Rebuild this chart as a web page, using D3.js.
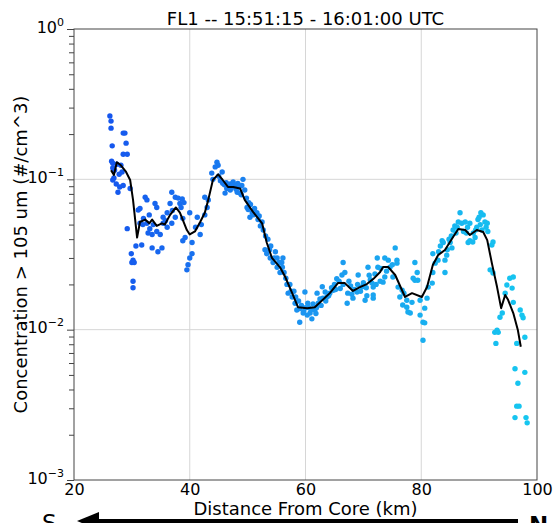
<!DOCTYPE html>
<html lang="en">
<head>
    <meta charset="UTF-8">
    <title>FL1</title>
    <script src="https://d3js.org/d3.v7.min.js"></script>
    <style>
        body { margin: 0; background: #fff; overflow: hidden; }
        svg { display: block; }
        text { font-family: "DejaVu Sans", sans-serif; }
    </style>
</head>
<body>
<script>
    const width = 554
    const height = 523
    const padL = 74, padR = 537, padT = 29, padB = 480

    const xTicks = [20, 40, 60, 80, 100]
    const yDecades = [1e-3, 1e-2, 1e-1, 1]
    const yExp = ['\u22123', '\u22122', '\u22121', '0']

    // [km, #/cm^3]
    const scatterPts = [
        [26.2,0.264],[26.4,0.244],[26.4,0.219],[26.6,0.167],[28.5,0.203],[28.8,0.203],[29.0,0.174],[28.5,0.147],
        [29.2,0.147],[26.7,0.128],[27.4,0.126],[26.7,0.119],[28.1,0.124],[26.9,0.102],[26.7,0.099],[27.3,0.093],
        [27.9,0.089],[28.5,0.091],[27.6,0.082],[28.3,0.112],[29.7,0.087],[29.2,0.047],[29.9,0.032],[30.2,0.029],
        [30.0,0.028],[30.4,0.028],[30.2,0.021],[30.2,0.019],[30.7,0.036],[27.0,0.115],[27.8,0.108],[26.5,0.132],
        [31.7,0.0366],[33.5,0.035],[34.5,0.033],[35.2,0.035],[31.1,0.0625],[31.4,0.064],[32.3,0.076],[32.6,0.073],
        [34.0,0.069],[34.3,0.065],[36.9,0.082],[37.5,0.076],[38.0,0.075],[38.7,0.074],[38.3,0.069],[36.6,0.069],
        [36.1,0.060],[35.4,0.056],[33.1,0.047],[32.8,0.044],[33.5,0.043],[34.3,0.045],[34.9,0.043],[32.6,0.051],
        [31.9,0.050],[31.4,0.051],[36.9,0.051],[37.5,0.056],[38.8,0.055],[39.2,0.041],[38.8,0.039],[40.0,0.060],
        [40.4,0.038],[40.4,0.032],[40.0,0.030],[39.7,0.027],[39.5,0.025],[41.3,0.056],[41.8,0.043],[42.6,0.058],
        [43.0,0.065],[43.2,0.073],[42.6,0.076],[35.4,0.051],[33.7,0.050],[36.1,0.048],[32.0,0.055],[33.0,0.058],
        [35.8,0.053],[37.0,0.062],[38.5,0.065],[39.0,0.070],[41.0,0.048],[42.0,0.050],
        [44.7,0.130],[44.9,0.124],[44.4,0.121],[45.6,0.112],[43.8,0.110],[45.7,0.094],[46.4,0.087],[47.0,0.085],
        [47.5,0.096],[48.3,0.094],[48.2,0.082],[46.1,0.081],[49.2,0.100],[49.0,0.091],[48.7,0.081],[49.5,0.085],
        [49.9,0.065],[50.1,0.063],[50.8,0.060],[50.4,0.056],[51.6,0.060],[51.8,0.054],[52.5,0.052],[52.7,0.046],
        [53.0,0.034],[53.3,0.032],[53.9,0.030],[54.4,0.028],[55.1,0.030],[56.1,0.030],[55.1,0.026],[55.9,0.028],
        [55.6,0.024],[56.8,0.020],[57.0,0.0175],[57.7,0.0165],[58.2,0.015],[58.5,0.0135],[59.0,0.0112],[59.6,0.0129],
        [59.9,0.0178],[60.4,0.015],[60.8,0.0129],[61.1,0.0118],[61.6,0.0135],[62.2,0.015],[63.0,0.0162],[63.7,0.0165],
        [64.2,0.0175],[64.8,0.0183],[65.4,0.0218],[66.3,0.0231],[66.5,0.028],[66.8,0.024],[67.2,0.015],[67.3,0.0175],
        [68.2,0.0162],[68.9,0.0178],[69.1,0.0231],[69.8,0.0193],[70.3,0.0157],[70.6,0.0168],[70.8,0.026],[71.7,0.0162],
        [72.4,0.030],[72.5,0.026],[62.9,0.0193],[62.0,0.0175],
        [44.0,0.100],[45.0,0.105],[46.0,0.092],[46.8,0.090],[47.2,0.088],[47.8,0.091],[48.5,0.089],[49.8,0.075],
        [50.5,0.068],[51.2,0.064],[52.0,0.057],[53.5,0.040],[54.0,0.036],[54.8,0.033],[56.3,0.024],[57.3,0.020],
        [58.0,0.018],[58.8,0.0155],[59.3,0.0145],[60.0,0.0140],[60.6,0.0140],[61.3,0.0148],[61.9,0.0140],[62.5,0.0160],
        [63.4,0.0178],[64.5,0.0190],[65.0,0.0200],[65.8,0.0210],[66.0,0.0188],[67.8,0.0195],[68.5,0.0185],[69.5,0.0180],
        [70.0,0.0205],[71.2,0.0215],[72.0,0.0235],
        [45.3,0.098],[46.3,0.095],[47.0,0.093],[48.0,0.086],[48.9,0.079],[50.2,0.070],[51.0,0.058],[52.2,0.049],
        [53.1,0.042],[53.8,0.034],[54.6,0.030],[55.4,0.028],[56.0,0.026],[56.6,0.022],[57.5,0.018],[58.3,0.0165],
        [59.0,0.0138],[59.7,0.0132],[60.3,0.0125],[61.0,0.0136],[61.8,0.0128],[62.7,0.0145],[63.5,0.0155],[64.0,0.0168],
        [65.2,0.0185],[66.5,0.0200],[67.5,0.0210],[68.0,0.0172],[69.0,0.0200],[70.5,0.0190],[71.0,0.0230],[72.2,0.0200],
        [73.7,0.030],[74.3,0.029],[74.6,0.026],[75.5,0.035],[75.8,0.029],[75.8,0.0277],[73.7,0.0224],[73.4,0.0207],
        [72.9,0.021],[71.7,0.0192],[71.7,0.017],[71.5,0.0204],[75.1,0.0224],[76.0,0.0192],[76.7,0.0183],[76.8,0.0146],
        [77.5,0.0141],[77.7,0.0131],[78.1,0.0129],[77.5,0.0157],[78.4,0.0152],[78.9,0.0213],[79.3,0.024],[78.9,0.028],
        [78.6,0.022],[79.4,0.0213],[79.8,0.0157],[79.8,0.0125],[80.3,0.0112],[80.6,0.0111],[80.3,0.0085],[80.6,0.0139],
        [81.0,0.0162],[81.2,0.0192],[81.9,0.0204],[82.0,0.024],[82.4,0.0277],[82.0,0.032],[82.9,0.029],[83.6,0.039],
        [83.8,0.038],[84.1,0.029],[84.1,0.024],[84.4,0.0313],[85.0,0.038],[85.3,0.035],[85.5,0.046],[86.4,0.052],
        [86.7,0.060],[87.0,0.051],[87.6,0.052],[88.1,0.038],[88.4,0.039],[88.4,0.051],[88.9,0.0383],[89.3,0.041],
        [89.6,0.048],[89.8,0.054],[90.7,0.058],[91.0,0.052],[91.4,0.051],[91.5,0.045],[92.2,0.0366],[92.4,0.0383],
        [91.9,0.025],[92.4,0.0238],[93.1,0.0099],[92.7,0.0096],[93.3,0.0096],[92.9,0.0081],[93.6,0.0121],[94.0,0.0129],
        [94.5,0.0175],[94.8,0.0198],[95.3,0.022],[95.9,0.0224],[95.7,0.0189],[95.9,0.0152],[97.1,0.0135],[97.4,0.0125],
        [97.6,0.012],[96.5,0.0081],[97.9,0.0089],[96.2,0.0055],[97.9,0.0052],[96.7,0.0044],[96.5,0.0031],[96.9,0.0031],
        [96.2,0.0026],[98.1,0.0026],[98.3,0.0024],
        [83.0,0.033],[84.8,0.040],[86.0,0.044],[87.3,0.045],[88.0,0.048],[89.0,0.044],[90.2,0.050],[90.5,0.046],
        [85.8,0.049],[76.3,0.0165],[77.0,0.0175],[74.0,0.0245],[75.0,0.027],[73.0,0.0255],[90.3,0.060],
        [83.3,0.036],[84.5,0.034],[85.2,0.042],[86.2,0.048],[87.8,0.044],[89.4,0.046],[90.0,0.056],[91.2,0.048]
    ]

    // running mean (black line)
    const smoothPts = [
        [26.4,0.115],[26.9,0.107],[27.4,0.130],[28.1,0.124],[29.0,0.112],[29.7,0.099],[30.2,0.073],[30.9,0.041],
        [31.4,0.052],[32.3,0.054],[33.0,0.051],[33.5,0.054],[34.3,0.049],[35.2,0.051],[35.7,0.050],[36.6,0.058],
        [37.6,0.065],[38.3,0.060],[39.5,0.046],[40.0,0.043],[40.9,0.045],[41.8,0.052],[42.6,0.060],[43.2,0.073],
        [44.0,0.099],[44.9,0.108],[45.7,0.099],[46.6,0.089],[47.5,0.089],[48.7,0.087],[49.5,0.073],[50.9,0.061],
        [52.5,0.051],[53.3,0.038],[54.2,0.030],[55.6,0.026],[56.5,0.0224],[57.7,0.0175],[58.7,0.0141],[60.3,0.0139],
        [61.6,0.0141],[62.9,0.0157],[64.2,0.0175],[65.6,0.0204],[66.8,0.0204],[68.2,0.0181],[69.4,0.0192],[70.6,0.0201],
        [71.7,0.0217],[72.9,0.0242],[73.4,0.0261],[74.3,0.0261],[75.5,0.0231],[77.2,0.0165],[78.4,0.0175],[80.1,0.0165],
        [81.0,0.0192],[82.0,0.0269],[82.9,0.0313],[84.1,0.0339],[85.5,0.0413],[86.4,0.0467],[87.6,0.046],[88.4,0.0426],
        [89.6,0.046],[90.7,0.0446],[91.4,0.0394],[92.2,0.0277],[93.1,0.0192],[93.8,0.0139],[94.5,0.0170],[95.0,0.0158],
        [95.9,0.0129],[96.7,0.0099],[97.2,0.0077]
    ]

    var svg = d3.select("body")
        .append("svg")
        .attr("width", width)
        .attr("height", height)

    var xScale = d3.scaleLinear()
        .domain([20, 100])
        .range([padL, padR])
    var yScale = d3.scaleLog()
        .domain([1e-3, 1])
        .range([padB, padT])
    var colorScale = d3.scaleLinear()
        .domain([26, 60, 98])
        .range(['#1556ee', '#1c95f0', '#16c6f0'])

    // grid
    svg.append("g")
        .selectAll("line")
        .data(xTicks.slice(1, -1))
        .enter()
        .append("line")
        .attr("x1", d => xScale(d)).attr("x2", d => xScale(d))
        .attr("y1", padT).attr("y2", padB)
        .attr("stroke", "#d6d6d6")
    svg.append("g")
        .selectAll("line")
        .data(yDecades.slice(1, -1))
        .enter()
        .append("line")
        .attr("y1", d => yScale(d)).attr("y2", d => yScale(d))
        .attr("x1", padL).attr("x2", padR)
        .attr("stroke", "#d6d6d6")

    // points
    svg.append("g")
        .selectAll("circle")
        .data(scatterPts)
        .enter()
        .append("circle")
        .attr("cx", d => xScale(d[0]))
        .attr("cy", d => yScale(d[1]))
        .attr("r", 2.7)
        .attr("fill", d => colorScale(d[0]))

    var line = d3.line()
        .x(d => xScale(d[0]))
        .y(d => yScale(d[1]))
    svg.append("path")
        .attr("d", line(smoothPts))
        .attr("fill", "none")
        .attr("stroke", "#000")
        .attr("stroke-width", 2)
        .attr("stroke-linejoin", "round")

    // frame
    svg.append("rect")
        .attr("x", padL).attr("y", padT)
        .attr("width", padR - padL).attr("height", padB - padT)
        .attr("fill", "none")
        .attr("stroke", "#444")
        .attr("stroke-width", 1)

    // axes
    var gx = svg.append("g")
        .attr("transform", "translate(0," + padB + ")")
        .call(d3.axisBottom(xScale).tickValues(xTicks).tickSize(0).tickPadding(4))
    gx.select(".domain").remove()
    gx.selectAll("text").attr("font-size", 16).attr("fill", "#000")
        .attr("font-family", "DejaVu Sans")

    var minor = []
    yDecades.slice(0, -1).forEach(function (d) {
        for (var k = 2; k < 10; k++) minor.push(d * k)
    })
    var gyMinor = svg.append("g")
        .attr("transform", "translate(" + padL + ",0)")
        .call(d3.axisLeft(yScale).tickValues(minor).tickSize(5).tickFormat(""))
    gyMinor.select(".domain").remove()
    gyMinor.selectAll("line").attr("stroke", "#444")

    var gy = svg.append("g")
        .attr("transform", "translate(" + padL + ",0)")
        .call(d3.axisLeft(yScale).tickValues(yDecades).tickSize(7).tickPadding(3).tickFormat(""))
    gy.select(".domain").remove()
    gy.selectAll("line").attr("stroke", "#444")
    gy.selectAll(".tick").each(function (d, i) {
        var t = d3.select(this).select("text")
            .attr("font-size", 16)
            .attr("fill", "#000")
            .attr("font-family", "DejaVu Sans")
            .attr("dy", "0.2em")
        t.append("tspan").text("10")
        t.append("tspan").text(yExp[i])
            .attr("font-size", 11)
            .attr("dy", "-0.65em")
    })

    // title and labels
    svg.append("text")
        .text("FL1 -- 15:51:15 - 16:01:00 UTC")
        .attr("x", (padL + padR) / 2)
        .attr("y", 25)
        .attr("text-anchor", "middle")
        .attr("font-size", 18)
    svg.append("text")
        .text("Distance From Core (km)")
        .attr("x", (padL + padR) / 2)
        .attr("y", 515)
        .attr("text-anchor", "middle")
        .attr("font-size", 18)
    svg.append("text")
        .text("Concentration > 105 um (#/cm^3)")
        .attr("transform", "translate(27," + (padT + padB) / 2 + ") rotate(-90)")
        .attr("text-anchor", "middle")
        .attr("font-size", 18)

    // S <- N arrow
    svg.append("line")
        .attr("x1", 96).attr("x2", 518)
        .attr("y1", 521).attr("y2", 521)
        .attr("stroke", "#000")
        .attr("stroke-width", 4)
    svg.append("path")
        .attr("d", "M77,521 L99,512 L99,530 Z")
        .attr("fill", "#000")
    svg.append("text")
        .text("S")
        .attr("x", 42).attr("y", 531)
        .attr("font-size", 23)
    svg.append("text")
        .text("N")
        .attr("x", 529).attr("y", 533)
        .attr("font-size", 23)
        .attr("font-weight", "bold")
</script>
</body>
</html>
